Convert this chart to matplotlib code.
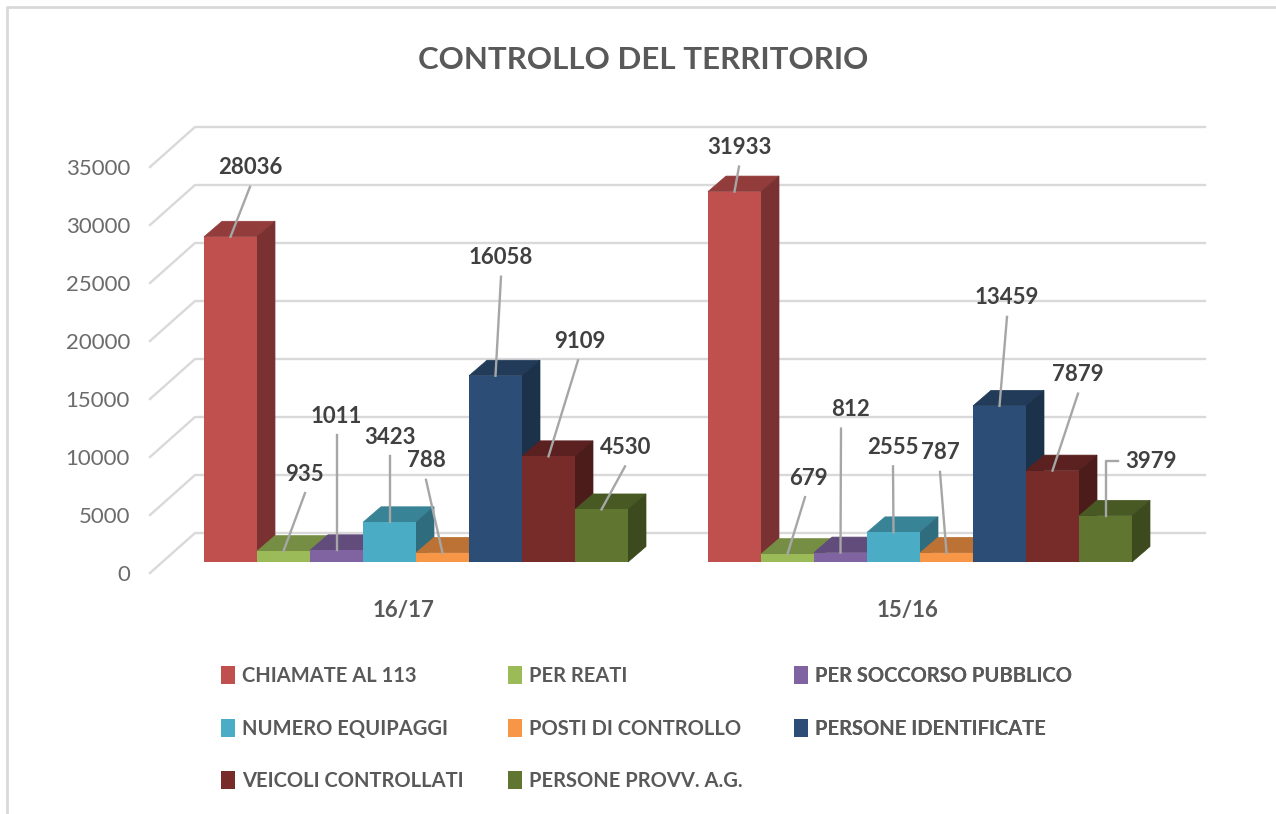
import matplotlib
matplotlib.use("Agg")
import matplotlib.pyplot as plt
from matplotlib.lines import Line2D
from matplotlib.patches import Patch
from matplotlib.colors import to_rgb

W, H = 1276, 814
plt.rcParams['font.family'] = ['Lato', 'DejaVu Sans']

# ---------- data ----------
years = ["16/17", "15/16"]
series = ["CHIAMATE AL 113", "PER REATI", "PER SOCCORSO PUBBLICO", "NUMERO EQUIPAGGI",
          "POSTI DI CONTROLLO", "PERSONE IDENTIFICATE", "VEICOLI CONTROLLATI", "PERSONE PROVV. A.G."]
values_1617 = [28036, 935, 1011, 3423, 788, 16058, 9109, 4530]
values_1516 = [31933, 679, 812, 2555, 787, 13459, 7879, 3979]
y_ticks = [0, 5000, 10000, 15000, 20000, 25000, 30000, 35000]
colors = ["#c0504d", "#9bbb59", "#8064a2", "#4bacc6", "#f79646", "#2c4d75", "#772c2a", "#5f7530"]

# ---------- layout (pixels) ----------
PX_PER_VALUE = 0.0116
FLOOR_Y = 562
CAT_STEP = 504
CAT0_X = 416
BAR_W = 53
DEPTH_X, DEPTH_Y = 18, 15.5
WALL_X0, WALL_X1, WALL_LIFT = 195, 1205, 29
DIAG_X, DIAG_Y = 45, 40
# leader top relative to the bar's front-top centre: dx, rise, label shift
leaders = [
    [(19.5, 50, 0), (21.5, 58, -1), (0, 115, 0), (0, 66, 0), (-16.5, 73, 0), (5.5, 99, 0), (29.5, 96, 2), (23.5, 43, 1)],
    [(4.5, 25, 0), (17.5, 57, 3), (0.5, 124, 9), (-0.5, 66, 0), (-6.5, 81, 0), (7.5, 89, 0), (25.5, 77, 0), (0, 55, 0)],
]

fig = plt.figure(figsize=(W / 100, H / 100), dpi=100, facecolor="white")
ax = fig.add_axes([0, 0, 1, 1])
ax.set_xlim(-CAT0_X / CAT_STEP, (W - CAT0_X) / CAT_STEP)
ax.set_ylim(-(H - FLOOR_Y) / PX_PER_VALUE, FLOOR_Y / PX_PER_VALUE)
ax.axis("off")

ux = 1 / CAT_STEP          # data units per pixel, horizontally
uy = 1 / PX_PER_VALUE      # data units per pixel, vertically
def x_at(px):
    return (px - CAT0_X) * ux

# frame
fig.add_artist(Line2D([7 / W, 7 / W, 1], [0, 1 - 7 / H, 1 - 7 / H], color="#d9d9d9", lw=2))

# back wall gridlines + tick labels
for v in y_ticks:
    yw = v + WALL_LIFT * uy
    ax.plot([x_at(WALL_X0 - DIAG_X), x_at(WALL_X0), x_at(WALL_X1)],
            [yw - DIAG_Y * uy, yw, yw], color="#d9d9d9", lw=1.7, zorder=1, solid_joinstyle="miter")
    ax.text(x_at(130), v - 13 * uy, str(v), ha="right", va="center", fontsize=16, color="#6b6b6b")

def shade(c, f):
    return tuple(ch * f for ch in to_rgb(c))

# bars
w = BAR_W * ux
dx, dy = DEPTH_X * ux, DEPTH_Y * uy
z = 5
for cat, vals in enumerate([values_1617, values_1516]):
    for i, v in enumerate(vals):
        x0 = cat + (i - 4) * w
        top, side = shade(colors[i], 0.76), shade(colors[i], 0.63)
        ax.fill([x0, x0 + w, x0 + w + dx, x0 + dx], [v, v, v + dy, v + dy],
                facecolor=top, edgecolor=top, lw=0.5, zorder=z)
        ax.fill([x0 + w, x0 + w + dx, x0 + w + dx, x0 + w], [0, dy, v + dy, v],
                facecolor=side, edgecolor=side, lw=0.5, zorder=z)
        ax.bar(x0, v, width=w, align="edge", color=colors[i], edgecolor="none", zorder=z + 0.5)
        z += 1

# leaders and data labels
for cat, vals in enumerate([values_1617, values_1516]):
    for i, v in enumerate(vals):
        xc = cat + (i - 3.5) * w
        ldx, rise, shift = leaders[cat][i]
        xt, yt = xc + ldx * ux, v + rise * uy
        if cat == 1 and i == 7:      # elbow leader
            ax.plot([xc, xc, xc + 12 * ux], [v, yt, yt], color="#a6a6a6", lw=1.7, zorder=50)
            ax.text(xc + 45 * ux, yt - 1 * uy, str(v), ha="center", va="center",
                    fontsize=16, fontweight="bold", color="#404040", zorder=60)
        else:
            ax.plot([xc, xt], [v, yt], color="#a6a6a6", lw=1.7, zorder=50)
            ax.text(xt + shift * ux, yt + 19 * uy, str(v), ha="center", va="center",
                    fontsize=16, fontweight="bold", color="#404040", zorder=60)

# category labels
for cat, name in enumerate(years):
    ax.text(cat - 13 * ux, -49 * uy, name, ha="center", va="center",
            fontsize=16, fontweight="bold", color="#595959")

# legend: one block per column so the three columns keep the same pitch
handles = [Patch(facecolor=c, edgecolor="none", label=s) for c, s in zip(colors, series)]
for col, left in enumerate([215, 502, 788]):
    leg = ax.legend(handles=handles[col::3], loc="upper left",
                    bbox_to_anchor=(left / W, 1 - 660 / H), bbox_transform=fig.transFigure,
                    frameon=False, labelcolor="#595959", handlelength=0.68,
                    handleheight=1.0, handletextpad=0.35, labelspacing=1.62,
                    borderpad=0.3, borderaxespad=0, prop={"weight": "bold", "size": 14.5})
    ax.add_artist(leg)

# title
fig.text(643 / W, 1 - 60 / H, "CONTROLLO DEL TERRITORIO", ha="center", va="center",
         fontsize=22.5, fontweight="bold", color="#595959")

fig.savefig("out.png", dpi=100)
